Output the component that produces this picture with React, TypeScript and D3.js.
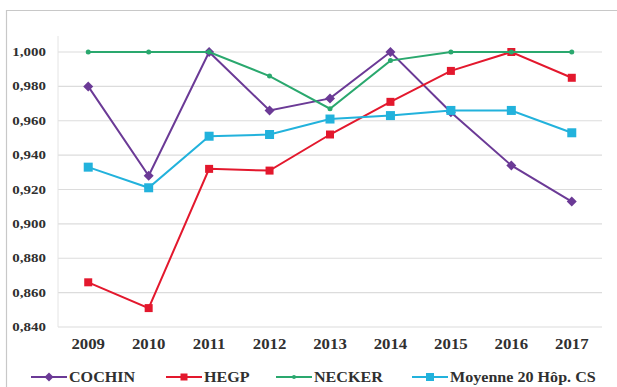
import React from 'react';
import * as d3 from 'd3';

const years = ['2009', '2010', '2011', '2012', '2013', '2014', '2015', '2016', '2017'];

const cochin = [0.980, 0.928, 1.000, 0.966, 0.973, 1.000, 0.965, 0.934, 0.913];
const hegp = [0.866, 0.851, 0.932, 0.931, 0.952, 0.971, 0.989, 1.000, 0.985];
const necker = [1.000, 1.000, 1.000, 0.986, 0.967, 0.995, 1.000, 1.000, 1.000];
const moyenne = [0.933, 0.921, 0.951, 0.952, 0.961, 0.963, 0.966, 0.966, 0.953];

const yTicks = [0.84, 0.86, 0.88, 0.90, 0.92, 0.94, 0.96, 0.98, 1.0];

const series = [
  { name: 'COCHIN', values: cochin, color: '#6b3a96', marker: 'diamond', size: 5 },
  { name: 'HEGP', values: hegp, color: '#e3182d', marker: 'square', size: 4 },
  { name: 'NECKER', values: necker, color: '#2aa86e', marker: 'circle', size: 2.5 },
  { name: 'Moyenne 20 Hôp. CS', values: moyenne, color: '#22b2dc', marker: 'square', size: 4.5 },
];

const W = 617;
const H = 387;
const plot = { left: 58, right: 602, top: 52, bottom: 327 };

function Marker({ type, x, y, size, color }: { type: string; x: number; y: number; size: number; color: string }) {
  if (type === 'square') {
    return <rect x={x - size} y={y - size} width={size * 2} height={size * 2} fill={color} />;
  }
  if (type === 'diamond') {
    return <path d={`M${x},${y - size}L${x + size},${y}L${x},${y + size}L${x - size},${y}Z`} fill={color} />;
  }
  return <circle cx={x} cy={y} r={size} fill={color} />;
}

// wide-looking bold serif text, stretched horizontally like the original bitmap
function Label({ x, y, anchor, size, sx, children }: { x: number; y: number; anchor: string; size: number; sx: number; children: React.ReactNode }) {
  return (
    <g transform={`translate(${x},${y}) scale(${sx},1)`}>
      <text dy="0.35em" textAnchor={anchor} fontFamily="'Liberation Serif', 'Times New Roman', serif" fontWeight="bold" fontSize={size} fill="#303030">
        {children}
      </text>
    </g>
  );
}

export default function App() {
  const x = d3.scaleBand<string>().domain(years).range([plot.left, plot.right]);
  const y = d3.scaleLinear().domain([0.84, 1.0]).range([plot.bottom, plot.top]);
  const cx = (d: string) => (x(d) ?? 0) + x.bandwidth() / 2;
  const fmt = (v: number) => d3.format('.3f')(v).replace('.', ',');

  const line = d3.line<number>()
    .x((_, i) => cx(years[i]))
    .y(d => y(d));

  const legendX = [31, 166, 276, 412];

  return (
    <svg width={W} height={H} style={{ position: 'absolute', left: 0, top: 0 }}>
      <rect x={0} y={0} width={W} height={H} fill="#fff" />
      <path d={`M6.5,${H}V10.5H${W}`} fill="none" stroke="#c8c8c8" strokeWidth={1.2} />

      {yTicks.map(t => (
        <g key={t}>
          <line x1={plot.left} x2={plot.right} y1={y(t)} y2={y(t)} stroke="#dcdcdc" strokeWidth={1.2} />
          <Label x={46} y={y(t)} anchor="end" size={11.5} sx={1.3}>{fmt(t)}</Label>
        </g>
      ))}
      <line x1={plot.left} x2={plot.left} y1={plot.top - 16} y2={plot.bottom} stroke="#e4e4e4" strokeWidth={1} />

      {years.map(yr => (
        <Label key={yr} x={cx(yr)} y={344} anchor="middle" size={14} sx={1.2}>{yr}</Label>
      ))}

      {series.map(s => (
        <g key={s.name}>
          <path d={line(s.values) ?? ''} fill="none" stroke={s.color} strokeWidth={2} />
          {s.values.map((v, i) => (
            <Marker key={i} type={s.marker} x={cx(years[i])} y={y(v)} size={s.size} color={s.color} />
          ))}
        </g>
      ))}

      {series.map((s, i) => (
        <g key={s.name}>
          <line x1={legendX[i]} x2={legendX[i] + 36} y1={377} y2={377} stroke={s.color} strokeWidth={2} />
          <Marker type={s.marker} x={legendX[i] + 18} y={377} size={s.size - 0.5} color={s.color} />
          <Label x={legendX[i] + 38} y={377} anchor="start" size={14} sx={1.15}>{s.name}</Label>
        </g>
      ))}
    </svg>
  );
}
